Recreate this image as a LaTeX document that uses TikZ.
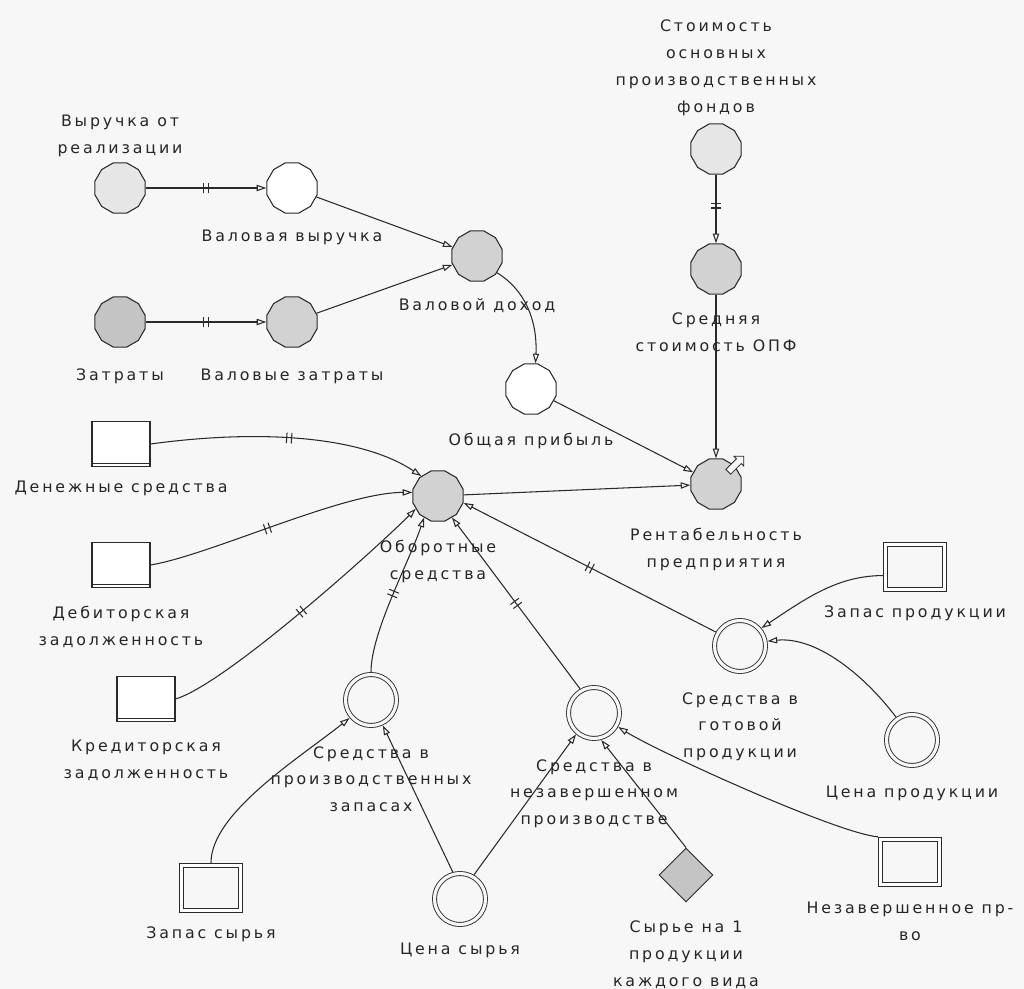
\documentclass[tikz,border=0pt]{standalone}
\usepackage{fontspec}
\setmainfont{DejaVu Sans}[LetterSpace=18]
\usetikzlibrary{arrows.meta, positioning, shapes.geometric, shapes.arrows, decorations.markings}
\definecolor{sdbg}{HTML}{F7F7F7}
\definecolor{sdline}{HTML}{2A2A2A}
\definecolor{sdlight}{HTML}{E6E6E6}
\definecolor{sdmid}{HTML}{D2D2D2}
\definecolor{sddark}{HTML}{C4C4C4}

\begin{document}
\begin{tikzpicture}[
  x=0.02cm, y=-0.02cm,
  node distance=3.6mm,
  aux/.style={regular polygon, regular polygon sides=12, draw=sdline, line width=0.6pt, minimum size=10.4mm, inner sep=0pt},
  conv/.style={circle, draw=sdline, line width=0.5pt, double=sdbg, double distance=1.8pt, minimum size=10.2mm, inner sep=0pt, outer sep=1.4pt},
  stock/.style={rectangle, draw=sdline, line width=0.6pt, fill=white, minimum width=11.6mm, minimum height=9mm, inner sep=0pt,
    path picture={\draw[sdline, line width=0.6pt] ([yshift=1.6pt]path picture bounding box.south west) -- ([yshift=1.6pt]path picture bounding box.south east);}},
  dstock/.style={rectangle, draw=sdline, line width=0.6pt, double=white, double distance=1.6pt, minimum width=11.8mm, minimum height=9.1mm, inner sep=0pt, outer sep=1.4pt},
  const/.style={diamond, draw=sdline, line width=0.5pt, fill=sddark, minimum size=10.8mm, inner sep=0pt},
  lbl/.style={font=\fontsize{9}{15.3}\selectfont, text=black!85, align=center, inner sep=0pt},
  link/.style={draw=sdline, line width=0.6pt, -{Triangle[open, length=5.5pt, width=3.6pt]}},
  flowmark/.style={postaction={decorate}, decoration={markings, mark=at position #1 with {\draw[-, sdline, line width=0.6pt] (-1.4pt,-3pt) -- (-1.4pt,3pt) (1.4pt,-3pt) -- (1.4pt,3pt);}}},
  flowmark/.default=0.5,
]
\path[fill=sdbg, use as bounding box] (0,0) rectangle (1024,989);

\node[aux, fill=sdlight] (revenue) at (120,188) {};
\node[lbl, above=1mm of revenue] (revenuelbl) {Выручка от\\реализации};
\node[aux, fill=white] (grossrev) at (292,188) {};
\node[lbl, below=3.2mm of grossrev] (grossrevlbl) {Валовая выручка};
\node[aux, fill=sddark] (costs) at (120,322) {};
\node[lbl, below=4.2mm of costs] (costslbl) {Затраты};
\node[aux, fill=sdmid] (grosscost) at (292,322) {};
\node[lbl, below=4.2mm of grosscost] (grosscostlbl) {Валовые затраты};
\node[aux, fill=sdmid] (grossinc) at (477,256) {};
\node[lbl, below=3.2mm of grossinc] (grossinclbl) {Валовой доход};
\node[aux, fill=white] (profit) at (531,389) {};
\node[lbl, below=of profit] (profitlbl) {Общая прибыль};
\node[aux, fill=sdlight] (fixedcap) at (716,149) {};
\node[lbl, above=1.5mm of fixedcap] (fixedcaplbl) {Стоимость\\основных\\производственных\\фондов};
\node[aux, fill=sdmid] (avgcap) at (716,269) {};
\node[lbl, below=of avgcap] (avgcaplbl) {Средняя\\стоимость ОПФ};
\node[aux, fill=sdmid] (profitability) at (716,484) {};
\node[lbl, below=of profitability] (profitabilitylbl) {Рентабельность\\предприятия};
\node[aux, fill=sdmid] (workcap) at (438,496) {};
\node[lbl, below=of workcap] (workcaplbl) {Оборотные\\средства};

\node[stock] (cash) at (121,444) {};
\node[lbl, below=2.8mm of cash] (cashlbl) {Денежные средства};
\node[stock] (receiv) at (121,565) {};
\node[lbl, below=of receiv] (receivlbl) {Дебиторская\\задолженность};
\node[stock] (payables) at (146,699) {};
\node[lbl, below=of payables] (payableslbl) {Кредиторская\\задолженность};

\node[conv] (matfund) at (371,700) {};
\node[lbl, below=of matfund] (matfundlbl) {Средства в\\производственных\\запасах};
\node[conv] (wipfund) at (594,713) {};
\node[lbl, below=of wipfund] (wipfundlbl) {Средства в\\незавершенном\\производстве};
\node[conv] (finfund) at (740,646) {};
\node[lbl, below=of finfund] (finfundlbl) {Средства в\\готовой\\продукции};
\node[dstock] (prodstock) at (915,567) {};
\node[lbl, below=2.7mm of prodstock] (prodstocklbl) {Запас продукции};
\node[conv] (prodprice) at (912,740) {};
\node[lbl, below=of prodprice] (prodpricelbl) {Цена продукции};
\node[dstock] (rawstock) at (211,888) {};
\node[lbl, below=2.7mm of rawstock] (rawstocklbl) {Запас сырья};
\node[conv] (rawprice) at (460,899) {};
\node[lbl, below=3.1mm of rawprice] (rawpricelbl) {Цена сырья};
\node[const] (rawnorm) at (686,875) {};
\node[lbl, below=of rawnorm] (rawnormlbl) {Сырье на 1\\продукции\\каждого вида};
\node[dstock] (wipstock) at (910,862) {};
\node[lbl, below=2.9mm of wipstock] (wipstocklbl) {Незавершенное пр-\\во};

\draw[link, flowmark] (revenue) -- (grossrev);
\draw[link, flowmark] (costs) -- (grosscost);
\draw[link] (grossrev) -- (grossinc);
\draw[link] (grosscost) -- (grossinc);
\draw[link] (grossinc.-40) .. controls +(28,17) and +(2,-43) .. (profit.80);
\draw[link, flowmark=0.45] (fixedcap) -- (avgcap);
\draw[link] (avgcap) -- (profitability);
\draw[link] (profit) -- (profitability);
\draw[link] (workcap) -- (profitability);

\draw[link, flowmark] (cash.east) .. controls +(110,-15) and +(-60,-40) .. (workcap.130);
\draw[link, flowmark=0.45] (receiv.east) .. controls +(60,-10) and +(-70,0) .. (workcap.172);
\draw[link, flowmark] (payables.east) .. controls +(50,-15) and +(-40,40) .. (workcap.210);
\draw[link, flowmark] (matfund.north) .. controls +(0,-40) and +(-15,45) .. (workcap.237);
\draw[link, flowmark] (wipfund.120) -- (workcap.303);
\draw[link, flowmark] (finfund.150) -- (workcap.345);

\draw[link] (prodstock.195) .. controls +(-45,0) and +(45,-30) .. (finfund.40);
\draw[link] (prodprice.125) .. controls +(-30,-40) and +(50,-5) .. (finfund.10);
\draw[link] (rawstock.north) .. controls +(0,-50) and +(-50,40) .. (matfund.220);
\draw[link] (rawprice.105) -- (matfund.295);
\draw[link] (rawprice.60) -- (wipfund.230);
\draw[link] (rawnorm.north) -- (wipfund.285);
\draw[link] (wipstock.north west) .. controls +(-40,-3) and +(40,25) .. (wipfund.330);

\node[single arrow, draw=sdline, line width=0.5pt, fill=sdbg, minimum height=4.4mm, minimum width=2.6mm, single arrow head extend=0.7mm, inner sep=0.6mm, rotate=45] (outflow) at (profitability.45) {};
\end{tikzpicture}
\end{document}
